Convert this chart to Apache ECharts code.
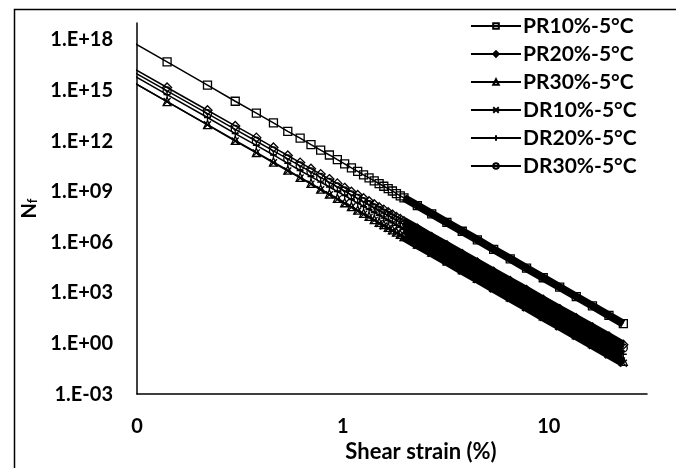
<!DOCTYPE html>
<html>
<head>
<meta charset="utf-8">
<script src="https://cdn.jsdelivr.net/npm/echarts@6/dist/echarts.min.js"></script>
<style>
  html, body { margin: 0; padding: 0; background: #fff; }
  #container { width: 676px; height: 468px; }
</style>
</head>
<body>
<div id="container"></div>
<script>
// shear strain (%) at each plotted point
var strain = [0.06,0.14,0.22,0.30,0.38,0.46,0.54,0.62,0.70,0.78,0.86,0.94,1.02,1.10,1.18,1.26,1.34,1.42,1.50,1.58,1.66,1.74,1.82,1.90,1.98,2.3,2.7,3.2,3.8,4.5,5.4,6.5,7.8,9.4,11.3,13.6,16.3,19.6,23.02];

// Nf for each mix
var pr10 = [1.8e19,4.9e16,2.1e15,2.3e14,4.5e13,1.2e13,3.8e12,1.5e12,6.2e11,2.9e11,1.5e11,7.9e10,4.5e10,2.6e10,1.6e10,1.0e10,6.6e9,4.4e9,3.0e9,2.1e9,1.5e9,1.1e9,7.7e8,5.7e8,4.3e8,1.5e8,4.9e7,1.5e7,4.5e6,1.4e6,3.8e5,1.05e5,2.9e4,7.9e3,2.2e3,6.0e2,1.7e2,46,15];
var pr20 = [5.1e17,1.5e15,6.7e13,7.9e12,1.6e12,4.2e11,1.4e11,5.3e10,2.3e10,1.1e10,5.6e9,3.1e9,1.7e9,1.0e9,6.4e8,4.1e8,2.7e8,1.8e8,1.2e8,8.6e7,6.1e7,4.4e7,3.2e7,2.4e7,1.8e7,6.5e6,2.1e6,6.7e5,2.0e5,6.4e4,1.8e4,5.1e3,1.5e3,4.0e2,1.1e2,32,9.1,2.6,0.85];
var pr30 = [8.0e16,2.2e14,9.5e12,1.1e12,2.1e11,5.7e10,1.9e10,7.1e9,3.1e9,1.4e9,7.3e8,4.0e8,2.2e8,1.3e8,8.1e7,5.2e7,3.4e7,2.2e7,1.5e7,1.1e7,7.6e6,5.5e6,4.0e6,3.0e6,2.2e6,7.9e5,2.6e5,7.9e4,2.4e4,7.4e3,2.1e3,5.8e2,1.6e2,44,12,3.4,0.97,0.27,0.088];
var dr10 = [8.2e16,2.2e14,9.2e12,1.0e12,2.0e11,5.2e10,1.7e10,6.5e9,2.8e9,1.3e9,6.6e8,3.5e8,2.0e8,1.2e8,7.2e7,4.5e7,3.0e7,2.0e7,1.3e7,9.3e6,6.6e6,4.7e6,3.5e6,2.6e6,1.9e6,6.7e5,2.2e5,6.7e4,2.0e4,6.1e3,1.7e3,4.7e2,1.3e2,35,9.7,2.7,0.75,0.21,0.067];
var dr20 = [2.1e17,5.7e14,2.5e13,2.8e12,5.5e11,1.5e11,4.8e10,1.8e10,7.9e9,3.7e9,1.9e9,1.0e9,5.8e8,3.4e8,2.1e8,1.3e8,8.6e7,5.8e7,3.9e7,2.7e7,1.9e7,1.4e7,1.0e7,7.6e6,5.7e6,2.0e6,6.6e5,2.0e5,6.2e4,1.9e4,5.4e3,1.5e3,4.2e2,1.1e2,32,8.7,2.5,0.69,0.23];
var dr30 = [3.2e17,9.4e14,4.2e13,5.0e12,9.8e11,2.6e11,8.7e10,3.4e10,1.5e10,7.0e9,3.6e9,1.9e9,1.1e9,6.5e8,4.0e8,2.6e8,1.7e8,1.1e8,7.7e7,5.4e7,3.9e7,2.8e7,2.0e7,1.5e7,1.1e7,4.1e6,1.4e6,4.2e5,1.3e5,4.0e4,1.2e4,3.2e3,9.2e2,2.5e2,72,20,5.8,1.6,0.54];

var names = ['PR10%-5°C','PR20%-5°C','PR30%-5°C','DR10%-5°C','DR20%-5°C','DR30%-5°C'];
var values = [pr10, pr20, pr30, dr10, dr20, dr30];
var symbols = ['rect','diamond','triangle','path://M0,0L10,10M0,10L10,0','path://M5,0L5,10M0,5L10,5','circle'];
var symbolSizes = [8, 9, 8, 7, 7, 8];

// from this point on the markers sit so close together that they merge into a solid band
var bandStart = 24;

var font = 'Lato';

window.onload = function() {

var chartDom = document.getElementById('container');
var myChart = echarts.init(chartDom);
var option;

var series = [];
names.forEach(function(name, i) {
  var data = strain.map(function(x, j) { return [x, values[i][j]]; });
  series.push({
    name: name,
    type: 'line',
    data: data,
    symbol: symbols[i],
    symbolSize: symbolSizes[i],
    showAllSymbol: true,
    lineStyle: { color: '#000', width: 1.5 },
    itemStyle: { color: 'rgba(255,255,255,0)', borderColor: '#000', borderWidth: 1.3 },
    z: 2
  });
});
names.forEach(function(name, i) {
  var data = strain.map(function(x, j) { return [x, values[i][j]]; }).slice(bandStart);
  series.push({
    name: name + ' band',
    type: 'line',
    data: data,
    symbol: 'none',
    lineStyle: { color: '#000', width: 8, cap: 'butt' },
    silent: true,
    z: 3
  });
});

option = {
  animation: false,
  grid: { left: 137, right: 29, top: 23, bottom: 70 },
  legend: {
    data: names,
    orient: 'vertical',
    left: 465,
    top: 10,
    itemWidth: 50,
    itemHeight: 7,
    itemGap: 6,
    textStyle: { fontFamily: font, fontWeight: 'bold', fontSize: 21, color: '#000', lineHeight: 22, padding: [0, 0, 0, -3] }
  },
  xAxis: {
    type: 'log',
    logBase: 10,
    min: 0.1,
    max: 30,
    name: 'Shear strain (%)',
    nameLocation: 'middle',
    nameGap: 36,
    nameTextStyle: { fontFamily: font, fontWeight: 'bold', fontSize: 22, color: '#000', padding: [0, 0, 0, 58] },
    axisLine: { lineStyle: { color: '#000', width: 1.5 } },
    axisTick: { show: false },
    splitLine: { show: false },
    axisLabel: {
      margin: 22,
      showMaxLabel: false,
      fontFamily: font, fontWeight: 'bold', fontSize: 20, color: '#000',
      formatter: function(v) { return v < 0.5 ? '0' : String(Math.round(v)); }
    }
  },
  yAxis: {
    type: 'log',
    logBase: 1000,
    min: 1e-3,
    max: 1e19,
    name: '{a|N}{b|f}',
    nameLocation: 'middle',
    nameGap: 97,
    nameTextStyle: {
      rich: {
        a: { fontFamily: font, fontWeight: 'bold', fontSize: 20, color: '#000' },
        b: { fontFamily: font, fontWeight: 'bold', fontSize: 13, color: '#000', verticalAlign: 'bottom' }
      }
    },
    axisLine: { show: true, lineStyle: { color: '#000', width: 1.5 } },
    axisTick: { show: false },
    splitLine: { show: false },
    axisLabel: {
      margin: 24,
      showMaxLabel: false,
      fontFamily: font, fontWeight: 'bold', fontSize: 20, color: '#000',
      formatter: function(v) {
        var e = Math.round(Math.log(v) / Math.LN10);
        var s = String(Math.abs(e));
        if (s.length < 2) s = '0' + s;
        return '1.E' + (e < 0 ? '-' : '+') + s;
      }
    }
  },
  graphic: [{
    type: 'rect',
    left: 12,
    top: 7,
    shape: { width: 700, height: 500 },
    style: { fill: 'none', stroke: '#000', lineWidth: 1.5 },
    silent: true
  }],
  series: series
};

option && myChart.setOption(option);

}
</script>
</body>
</html>
